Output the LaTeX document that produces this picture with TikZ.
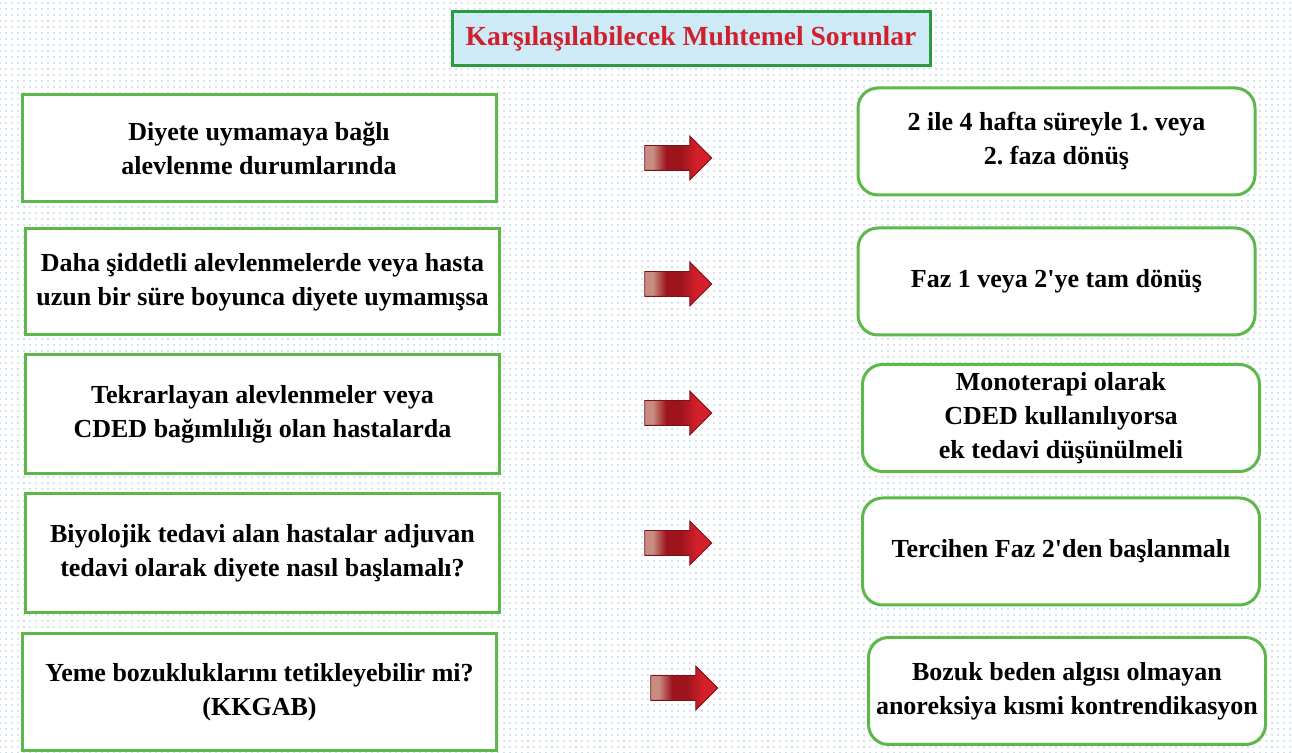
\documentclass[tikz,border=0pt]{standalone}
\usepackage{fontspec}
\setmainfont{Liberation Serif}
\usetikzlibrary{shapes.arrows,patterns}
\frenchspacing

\definecolor{boxgreen}{RGB}{92,184,72}
\definecolor{titlegreen}{RGB}{44,154,62}
\definecolor{titleblue}{RGB}{206,234,247}
\definecolor{titlered}{RGB}{208,32,46}
\definecolor{dotblue}{RGB}{186,214,234}
\definecolor{arrowlight}{RGB}{200,140,130}
\definecolor{arrowdark}{RGB}{158,20,28}
\definecolor{arrowred}{RGB}{212,32,42}

\pgfdeclarehorizontalshading{arrowshade}{100bp}{color(0bp)=(arrowlight);
  color(31bp)=(arrowlight); color(41bp)=(arrowdark); color(52bp)=(arrowdark);
  color(64bp)=(arrowred); color(100bp)=(arrowred)}

\tikzset{
  leftbox/.style={draw=boxgreen, line width=1.5pt, fill=white, align=center,
    minimum width=237pt, font=\fontsize{13}{17}\selectfont\bfseries},
  rightbox/.style={leftbox, rounded corners=10pt, minimum width=198.5pt,
    minimum height=53.5pt},
  redarrow/.style={single arrow, single arrow head extend=4.75pt,
    inner xsep=0pt, inner ysep=6pt, minimum height=33.5pt,
    draw=arrowdark!80!black, line width=0.4pt, shading=arrowshade}
}

\begin{document}
\begin{tikzpicture}[x=0.5pt, y=-0.5pt]
  % Background with dots
  \useasboundingbox (0,0) rectangle (1292,753);
  \fill[white] (0,0) rectangle (1292,753);
  \fill[pattern=dots, pattern color=dotblue] (0,0) rectangle (1292,753);

  % Title
  \node[draw=titlegreen, line width=1.5pt, fill=titleblue, minimum width=239pt,
    minimum height=27pt, text=titlered, font=\fontsize{13.8}{16}\selectfont\bfseries]
    (title) at (691,39) {Karşılaşılabilecek Muhtemel Sorunlar};

  % Left column: situations
  \node[leftbox, minimum height=53.5pt] (l1) at (259,148.5)
    {Diyete uymamaya bağlı\\alevlenme durumlarında};
  \node[leftbox, minimum height=53pt] (l2) at (262.5,282)
    {Daha şiddetli alevlenmelerde veya hasta\\uzun bir süre boyunca diyete uymamışsa};
  \node[leftbox, minimum height=59.5pt] (l3) at (262.5,414.5)
    {Tekrarlayan alevlenmeler veya\\CDED bağımlılığı olan hastalarda};
  \node[leftbox, minimum height=59.5pt] (l4) at (262.5,553.5)
    {Biyolojik tedavi alan hastalar adjuvan\\tedavi olarak diyete nasıl başlamalı?};
  \node[leftbox, minimum height=58.5pt] (l5) at (259.5,692)
    {Yeme bozukluklarını tetikleyebilir mi?\\(KKGAB)};

  % Right column: what to do
  \node[rightbox] (r1) at (1056.5,141.5) {2 ile 4 hafta süreyle 1. veya\\2. faza dönüş};
  \node[rightbox] (r2) at (1056.5,281.5) {Faz 1 veya 2\textquotesingle ye tam dönüş};
  \node[rightbox] (r3) at (1061,418)
    {Monoterapi olarak\\CDED kullanılıyorsa\\ek tedavi düşünülmeli};
  \node[rightbox] (r4) at (1061,551.5) {Tercihen Faz 2\textquotesingle den başlanmalı};
  \node[rightbox] (r5) at (1067,691)
    {Bozuk beden algısı olmayan\\anoreksiya kısmi kontrendikasyon};

  % Arrows between the columns
  \foreach \i/\x/\y in {1/672/158, 2/672/284, 3/672/413, 4/672/543, 5/678/688} {
      \node[redarrow] (a\i) at (\x,\y) {};
  }
\end{tikzpicture}
\end{document}
